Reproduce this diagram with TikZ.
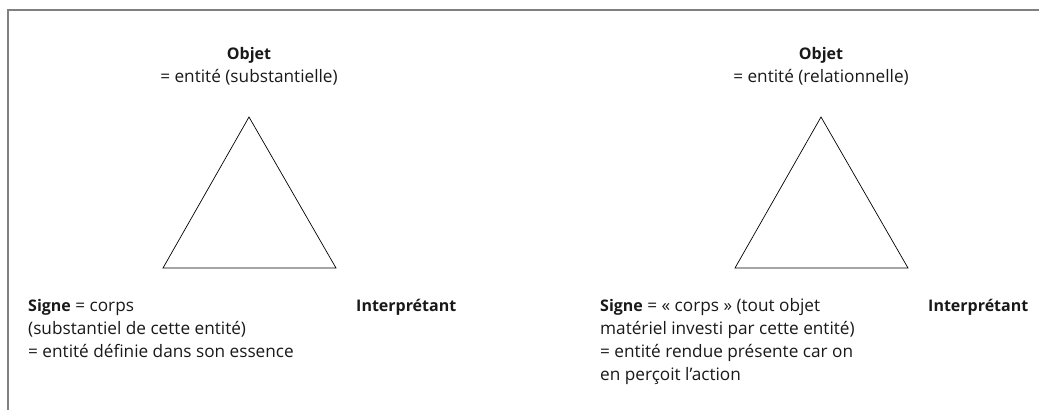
\documentclass[tikz,border=0pt]{standalone}
\usepackage{fontspec}
\setmainfont{Open Sans}
\usepackage{tikz}

% Mots en gras, un peu plus petits que le texte courant
\newcommand{\gras}[1]{{\fontsize{16}{23}\selectfont\bfseries #1}}

\begin{document}
\begin{tikzpicture}[x=1pt,y=-1pt,
    label/.style={inner sep=0pt, font=\fontsize{17.2}{23}\selectfont, text=black!90},
    cadre/.style={draw=black!50, line width=1.4pt},
    triangle/.style={draw=black, line width=0.7pt, line join=miter}]
        % Cadre
        \useasboundingbox (0,0) rectangle (1039,410);
        \coordinate (basgauche) at (8,410);
        \coordinate (hautgauche) at (8,10);
        \coordinate (hautdroit) at (1039,10);
        \draw[cadre] (basgauche) -- (hautgauche) -- (hautdroit);

        % Triangles (le second est décalé de 572)
        \foreach \nom/\x in {G/249, D/821}
        {
            \coordinate (sommet\nom) at (\x,117);
            \coordinate (signe\nom) at (\x-86,268);
            \coordinate (interp\nom) at (\x+87,268);
            \draw[triangle] (sommet\nom) -- (signe\nom) -- (interp\nom) -- cycle;
        }

        % Triangle de gauche
        \node[label, anchor=base] (objetG) at (249,59) {\gras{Objet}};
        \node[label, anchor=base] (defobjetG) at (249,82) {= entité (substantielle)};
        \node[label, anchor=base west, align=left] (txtsigneG) at (28,357)
            {\gras{Signe} = corps\\(substantiel de cette entité)\\= entité définie dans son essence};
        \node[label, anchor=base west] (txtinterpG) at (356,311) {\gras{Interprétant}};

        % Triangle de droite
        \node[label, anchor=base] (objetD) at (821,59) {\gras{Objet}};
        \node[label, anchor=base] (defobjetD) at (821,82) {= entité (relationnelle)};
        \node[label, anchor=base west, align=left] (txtsigneD) at (600,380)
            {\gras{Signe} = « corps » (tout objet\\matériel investi par cette entité)\\= entité rendue présente car on\\en perçoit l’action};
        \node[label, anchor=base west] (txtinterpD) at (928,311) {\gras{Interprétant}};
\end{tikzpicture}
\end{document}
